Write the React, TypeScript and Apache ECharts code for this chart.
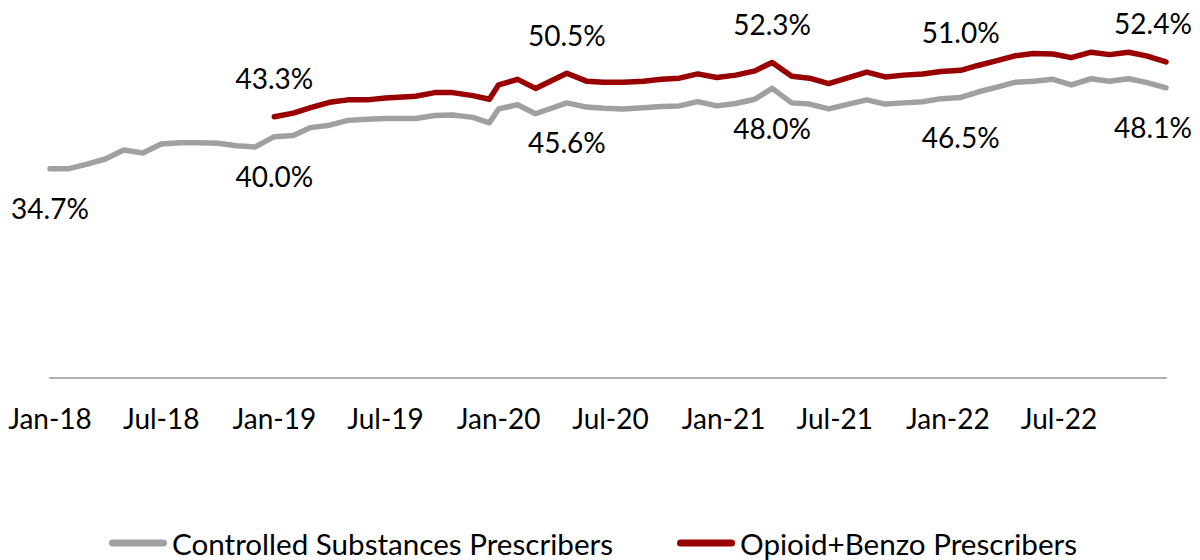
import React, { useEffect, useRef } from 'react';
import * as echarts from 'echarts';

const dates = [
  '2018-01-01', '2018-02-01', '2018-03-01', '2018-04-01', '2018-05-01', '2018-06-01',
  '2018-07-01', '2018-08-01', '2018-09-01', '2018-10-01', '2018-11-01', '2018-12-01',
  '2019-01-01', '2019-02-01', '2019-03-01', '2019-04-01', '2019-05-01', '2019-06-01',
  '2019-07-01', '2019-08-19', '2019-09-19', '2019-10-18', '2019-11-20', '2019-12-17',
  '2020-01-01', '2020-02-01', '2020-03-01', '2020-04-21', '2020-05-23', '2020-06-20',
  '2020-07-22', '2020-08-24', '2020-09-22', '2020-10-21', '2020-11-20', '2020-12-21',
  '2021-01-21', '2021-02-21', '2021-03-21', '2021-04-22', '2021-05-21', '2021-06-21',
  '2021-08-22', '2021-09-21', '2021-10-21', '2021-11-21', '2021-12-21',
  '2022-01-22', '2022-02-19', '2022-03-22', '2022-04-20', '2022-05-20', '2022-06-21',
  '2022-07-21', '2022-08-22', '2022-09-21', '2022-10-22', '2022-11-20', '2022-12-22',
];

const controlledSubstances = [
  34.7, 34.7, 35.4, 36.3, 37.8, 37.3, 38.8, 39.0, 39.0, 38.9, 38.5, 38.3,
  40.0, 40.2, 41.5, 41.9, 42.7, 42.9, 43.0, 43.0, 43.5, 43.6, 43.2, 42.3,
  44.6, 45.3, 43.8, 45.6, 44.9, 44.7, 44.6, 44.8, 45.0, 45.1, 45.8, 45.1,
  45.5, 46.2, 48.0, 45.6, 45.4, 44.6, 46.1, 45.4, 45.6, 45.8, 46.3,
  46.5, 47.4, 48.2, 49.0, 49.2, 49.5, 48.6, 49.6, 49.2, 49.6, 49.0, 48.1,
];

const opioidBenzo: (number | null)[] = [
  null, null, null, null, null, null, null, null, null, null, null, null,
  43.3, 43.9, 44.8, 45.7, 46.1, 46.1, 46.4, 46.7, 47.3, 47.3, 46.8, 46.2,
  48.6, 49.5, 48.0, 50.5, 49.2, 49.0, 49.0, 49.2, 49.5, 49.7, 50.4, 49.8,
  50.2, 50.9, 52.3, 50.0, 49.7, 48.8, 50.7, 49.9, 50.2, 50.4, 50.8,
  51.0, 51.8, 52.6, 53.4, 53.8, 53.7, 53.1, 54.0, 53.6, 54.0, 53.4, 52.4,
];

// Points that carry a value label
const labelledDates = ['2018-01-01', '2019-01-01', '2020-04-21', '2021-03-21', '2022-01-22', '2022-12-22'];

// Axis tick labels (half-yearly)
const tickDates = [
  '2018-01-01', '2018-07-01', '2019-01-01', '2019-07-01', '2020-01-01',
  '2020-07-01', '2021-01-01', '2021-07-01', '2022-01-01', '2022-07-01',
];

const seriesNames = ['Controlled Substances Prescribers', 'Opioid+Benzo Prescribers'];
const seriesColors = ['#A0A0A0', '#990000'];

const MONTHS = ['Jan', 'Feb', 'Mar', 'Apr', 'May', 'Jun', 'Jul', 'Aug', 'Sep', 'Oct', 'Nov', 'Dec'];
const DAY = 86400000;
const ORIGIN = Date.parse('2018-01-01T00:00:00Z');
const toDay = (d: string) => Math.round((Date.parse(d + 'T00:00:00Z') - ORIGIN) / DAY);
const dayLabel = (v: number) => {
  const dt = new Date(ORIGIN + Math.round(v) * DAY);
  return MONTHS[dt.getUTCMonth()] + '-' + String(dt.getUTCFullYear()).slice(2);
};

const FONT = 'Lato';

function buildSeriesData(values: (number | null)[], below: boolean) {
  const out: any[] = [];
  values.forEach((v, i) => {
    if (v === null) return;
    const item: any = { value: [toDay(dates[i]), v] };
    if (labelledDates.includes(dates[i])) {
      const last = i === values.length - 1;
      item.label = {
        show: true,
        position: below ? 'bottom' : 'top',
        distance: below ? 25 : 24,
        offset: [last ? -13 : 0, 0],
        formatter: (p: any) => p.value[1].toFixed(1) + '%',
        color: '#000',
        fontSize: 28,
        fontFamily: FONT,
      };
    }
    out.push(item);
  });
  return out;
}

export default function App() {
  const ref = useRef<HTMLDivElement>(null);
  useEffect(() => {
    const chart = echarts.init(ref.current!, null, { renderer: 'svg' });
    const lastDay = toDay(dates[dates.length - 1]);
    const legendIcon = 'path://M3.5,0 L54.5,0 A3.5,3.5 0 0 1 54.5,7 L3.5,7 A3.5,3.5 0 0 1 3.5,0 Z';
    chart.setOption({
      animation: false,
      backgroundColor: '#ffffff',
      textStyle: { fontFamily: FONT },
      grid: { left: 50, right: 34, top: 16, bottom: 182, containLabel: false },
      legend: {
        data: seriesNames,
        left: 104,
        top: 521,
        icon: legendIcon,
        itemWidth: 58,
        itemHeight: 7,
        itemGap: 64,
        selectedMode: false,
        textStyle: { fontSize: 29.6, color: '#000', fontFamily: FONT, lineHeight: 34 },
      },
      xAxis: {
        type: 'value',
        min: 0,
        max: lastDay,
        splitLine: { show: false },
        axisTick: { show: false },
        axisLine: { show: true, onZero: false, lineStyle: { color: '#B0B0B0', width: 2 } },
        axisLabel: {
          customValues: tickDates.map(toDay),
          formatter: (v: number) => dayLabel(v),
          color: '#000',
          fontSize: 28,
          fontFamily: FONT,
          margin: 26,
        },
      },
      yAxis: {
        type: 'value',
        min: 0,
        max: 60,
        show: false,
        splitLine: { show: false },
      },
      series: [
        {
          name: seriesNames[0],
          type: 'line',
          data: buildSeriesData(controlledSubstances, true),
          color: seriesColors[0],
          symbol: 'circle',
          symbolSize: 1,
          showSymbol: true,
          lineStyle: { width: 5.5, color: seriesColors[0], cap: 'round', join: 'round' },
          itemStyle: { color: seriesColors[0] },
          emphasis: { disabled: true },
          z: 2,
        },
        {
          name: seriesNames[1],
          type: 'line',
          data: buildSeriesData(opioidBenzo, false),
          color: seriesColors[1],
          symbol: 'circle',
          symbolSize: 1,
          showSymbol: true,
          lineStyle: { width: 5.5, color: seriesColors[1], cap: 'round', join: 'round' },
          itemStyle: { color: seriesColors[1] },
          emphasis: { disabled: true },
          z: 3,
        },
      ],
    });
    return () => chart.dispose();
  }, []);
  return (
    <div
      ref={ref}
      style={{ position: 'fixed', left: 0, top: 0, width: 1200, height: 560, background: '#fff' }}
    />
  );
}
